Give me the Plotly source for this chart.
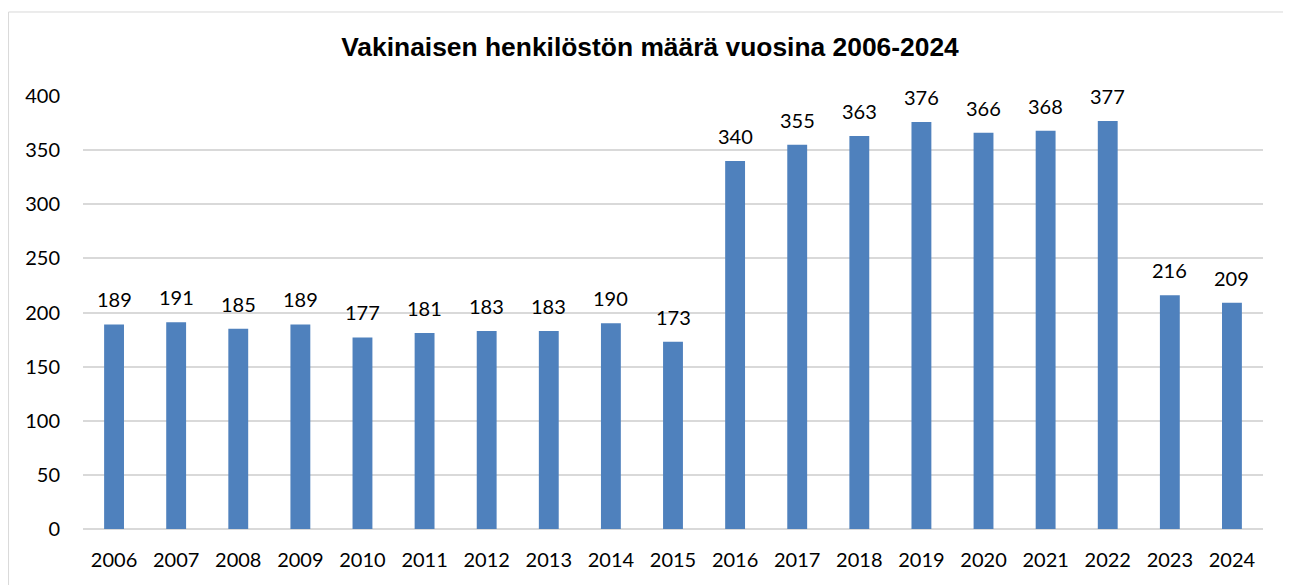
import plotly.graph_objects as go

years = [2006, 2007, 2008, 2009, 2010, 2011, 2012, 2013, 2014, 2015,
         2016, 2017, 2018, 2019, 2020, 2021, 2022, 2023, 2024]
staff = [189, 191, 185, 189, 177, 181, 183, 183, 190, 173,
         340, 355, 363, 376, 366, 368, 377, 216, 209]
y_ticks = [0, 50, 100, 150, 200, 250, 300, 350, 400]
title_text = "Vakinaisen henkilöstön määrä vuosina 2006-2024"

W, H = 1283, 577  # page body has an 8px margin

fig = go.Figure()
fig.add_trace(go.Bar(x=years, y=staff, marker=dict(color="#4F81BD", line=dict(width=0)),
                     width=0.32, hoverinfo="x+y"))

for yr, v in zip(years, staff):
    fig.add_annotation(x=yr, y=v, text=str(v), showarrow=False, yanchor="bottom",
                       yshift=11, font=dict(family="Lato", size=20, color="#000000"))

fig.add_shape(type="rect", xref="paper", yref="paper", x0=-0.0631, x1=1.05, y0=-0.16, y1=1.194,
              line=dict(color="#d9d9d9", width=1), fillcolor="rgba(0,0,0,0)", layer="below")

fig.update_layout(
    width=W, height=H,
    margin=dict(l=75, r=28, t=88, b=56),
    paper_bgcolor="white", plot_bgcolor="white",
    showlegend=False,
    title=dict(text="<b>" + title_text + "</b>", x=642 / W, xanchor="center",
               y=1 - 39 / H, yanchor="middle", yref="container",
               font=dict(family="Liberation Sans", size=26.4, color="#000000")),
    xaxis=dict(range=[2005.5, 2024.5], tickvals=years, ticktext=[str(y) for y in years],
               showgrid=False, ticks="", showline=False, zeroline=False,
               tickfont=dict(family="Lato", size=20, color="#000000"), ticklabelstandoff=17),
    yaxis=dict(range=[0, 400], tickvals=y_ticks, showgrid=True, gridcolor="#d9d9d9", gridwidth=1.5,
               zeroline=True, zerolinecolor="#d9d9d9", zerolinewidth=1.5, ticks="", showline=False,
               tickfont=dict(family="Lato", size=20, color="#000000"), ticklabelstandoff=22),
)

fig.write_html("out.html")
